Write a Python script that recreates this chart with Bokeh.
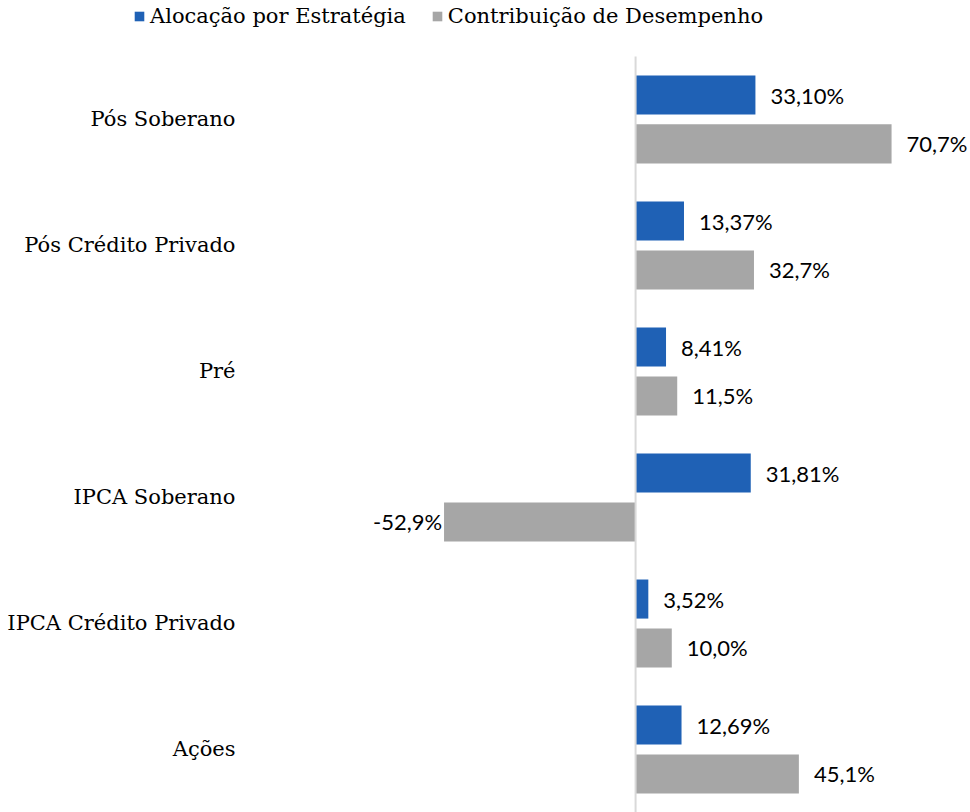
from bokeh.plotting import figure
from bokeh.models import Range1d, ColumnDataSource, Legend, LegendItem
from bokeh.core.properties import value
from bokeh.embed import file_html
from bokeh.resources import INLINE

categories = ["Pós Soberano", "Pós Crédito Privado", "Pré", "IPCA Soberano",
              "IPCA Crédito Privado", "Ações"]
alocacao = [33.10, 13.37, 8.41, 31.81, 3.52, 12.69]
contribuicao = [70.7, 32.7, 11.5, -52.9, 10.0, 45.1]
alocacao_labels = ["33,10%", "13,37%", "8,41%", "31,81%", "3,52%", "12,69%"]
contribuicao_labels = ["70,7%", "32,7%", "11,5%", "-52,9%", "10,0%", "45,1%"]
series_names = ["Alocação por Estratégia", "Contribuição de Desempenho"]

BLUE = "#1F61B5"
GRAY = "#A6A6A6"
LABEL_FONT = "Lato"
CAT_FONT = "DejaVu Serif"

idx = list(range(len(categories)))
off = 0.194
bh = 0.31
cat_label_x = -110.5

p = figure(width=970, height=812, output_backend="svg", toolbar_location=None,
           x_range=Range1d(-175.4, 92.5), y_range=Range1d(5.5, -0.944),
           min_border_left=0, min_border_right=0, min_border_top=0, min_border_bottom=0,
           y_axis_location=None, x_axis_location=None)
p.outline_line_color = None
p.xgrid.visible = False
p.ygrid.visible = False

src_a = ColumnDataSource(dict(y=[i - off for i in idx], v=alocacao, lab=alocacao_labels))
src_c = ColumnDataSource(dict(y=[i + off for i in idx], v=contribuicao, lab=contribuicao_labels))

ra = p.hbar(y="y", left=0, right="v", height=bh, source=src_a, fill_color=BLUE, line_color=None)
rc = p.hbar(y="y", left=0, right="v", height=bh, source=src_c, fill_color=GRAY, line_color=None)

# zero line
p.segment(x0=[0], y0=[-0.5], x1=[0], y1=[5.5], line_color="#D9D9D9", line_width=2)

# category labels
cat_src = ColumnDataSource(dict(x=[cat_label_x] * len(idx), y=idx, t=categories))
p.text(x="x", y="y", text="t", source=cat_src, text_align="right", text_baseline="middle",
       text_font=value(CAT_FONT), text_font_size="21px", text_color="#000000")

# data labels
p.text(x="v", y="y", text="lab", source=src_a, x_offset=15, text_baseline="middle",
       text_align="left", text_font=value(LABEL_FONT), text_font_size="22px", text_color="#000000")
cp = [k for k in idx if contribuicao[k] >= 0]
cn = [k for k in idx if contribuicao[k] < 0]
pos_c = ColumnDataSource(dict(y=[k + off for k in cp], v=[contribuicao[k] for k in cp],
                              lab=[contribuicao_labels[k] for k in cp]))
neg_c = ColumnDataSource(dict(y=[k + off for k in cn], v=[contribuicao[k] for k in cn],
                              lab=[contribuicao_labels[k] for k in cn]))
p.text(x="v", y="y", text="lab", source=pos_c, x_offset=15, text_baseline="middle",
       text_align="left", text_font=value(LABEL_FONT), text_font_size="22px", text_color="#000000")
p.text(x="v", y="y", text="lab", source=neg_c, x_offset=-2, text_baseline="middle",
       text_align="right", text_font=value(LABEL_FONT), text_font_size="22px", text_color="#000000")

legend = Legend(items=[LegendItem(label=series_names[0], renderers=[ra]),
                       LegendItem(label=series_names[1], renderers=[rc])],
                orientation="horizontal", location=(133, 784))
legend.border_line_color = None
legend.background_fill_alpha = 0
legend.label_text_font = CAT_FONT
legend.label_text_font_size = "21px"
legend.label_text_color = "#000000"
legend.glyph_width = 12
legend.glyph_height = 12
legend.label_standoff = 5
legend.spacing = 25
legend.padding = 0
legend.margin = 0
p.add_layout(legend, "center")

open("out.html", "w").write(file_html(p, INLINE))
